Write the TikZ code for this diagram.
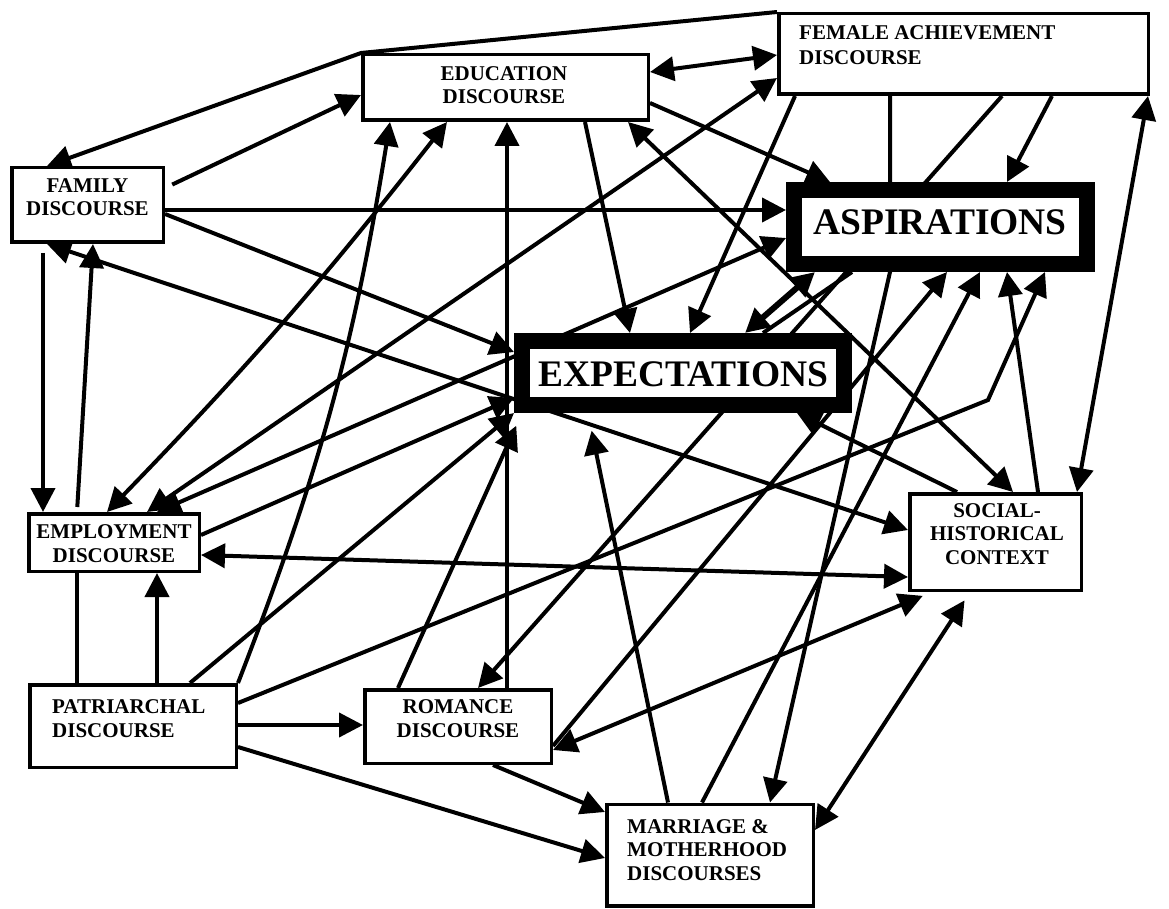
\documentclass[tikz,border=0pt]{standalone}
\usepackage{fontspec}
\setmainfont{Liberation Serif}
\usetikzlibrary{arrows.meta,backgrounds,calc}
\begin{document}
\begin{tikzpicture}[x=1pt,y=-1pt,
  >={Triangle[length=24pt,width=24pt]},
  box/.style={draw,line width=3.5pt,fill=white,inner sep=0pt},
  bigbox/.style={draw,line width=16pt,fill=white,inner sep=0pt,outer sep=8pt},
  txt/.style={inner sep=0pt,font=\bfseries\fontsize{21}{23.5}\selectfont},
  bigtxt/.style={inner sep=0pt,font=\bfseries\fontsize{37.5}{40}\selectfont},
  conn/.style={line width=4pt},
  thickconn/.style={line width=6pt}]
\useasboundingbox (0,0) rectangle (1169,909);

% boxes
\node[box,minimum width=151.5pt,minimum height=74.5pt] (fam) at (87.5,205) {};
\node[box,minimum width=285.5pt,minimum height=65.5pt] (edu) at (505.5,87.5) {};
\node[box,minimum width=369.5pt,minimum height=80.5pt] (fa) at (963.5,54) {};
\node[bigbox,minimum width=293pt,minimum height=74pt] (asp) at (940.5,227) {};
\node[bigbox,minimum width=322pt,minimum height=64pt] (exp) at (683,373) {};
\node[box,minimum width=170.5pt,minimum height=57.5pt] (emp) at (114,542.5) {};
\node[box,minimum width=171.5pt,minimum height=96.5pt] (soc) at (995.5,542) {};
\node[box,minimum width=206.5pt,minimum height=82.5pt] (pat) at (133,726) {};
\node[box,minimum width=186.5pt,minimum height=73.5pt] (rom) at (458,726.5) {};
\node[box,minimum width=206.5pt,minimum height=101.5pt] (mar) at (710,855) {};

% texts
\node[txt,align=center] (famtxt) at (87.5,197) {FAMILY\\DISCOURSE};
\node[txt,align=center] (edutxt) at (504,85) {EDUCATION\\DISCOURSE};
\node[txt,align=left,anchor=west,font=\bfseries\fontsize{21}{25}\selectfont] (fatxt) at (799,45.5) {FEMALE ACHIEVEMENT\\DISCOURSE};
\node[bigtxt] (asptxt) at (940,222.5) {ASPIRATIONS};
\node[bigtxt] (exptxt) at (683.5,374) {EXPECTATIONS};
\node[txt,align=center] (emptxt) at (114,543.5) {EMPLOYMENT\\DISCOURSE};
\node[txt,align=center] (soctxt) at (997,534) {SOCIAL-\\HISTORICAL\\CONTEXT};
\node[txt,align=left,anchor=west] (pattxt) at (52,718.5) {PATRIARCHAL\\DISCOURSE};
\node[txt,align=center] (romtxt) at (458,718.5) {ROMANCE\\DISCOURSE};
\node[txt,align=left,anchor=west] (martxt) at (627,850) {MARRIAGE \&\\MOTHERHOOD\\DISCOURSES};

\coordinate (pbend) at (988,400);

\begin{pgfonlayer}{background}
\fill[white] (0,0) rectangle (1169,909);
\draw[conn,->] (fa.north west) -- (edu.north west) -- (47,0 |- fam.north);
\draw[conn,->,shorten <=8pt] (fam.east |- 0,188) -- (edu.west |- 0,95);
\draw[conn,->] (fam.east |- 0,210) -- (asp.west |- 0,210);
\draw[conn,->] (fam.east |- 0,214) -- (exp.west |- 0,352);
\draw[conn,<->] (47,0 |- fam.south) -- (soc.west |- 0,530);
\draw[conn,->,shorten <=9pt] (43,0 |- fam.south) -- (43,0 |- emp.north);
\draw[conn,->,shorten <=5pt] (77,0 |- emp.north) -- (93,0 |- fam.south);
\draw[conn,->] (585,0 |- edu.south) -- (630,0 |- exp.north);
\draw[conn,->] (edu.east |- 0,103) -- (830,0 |- asp.north);
\draw[conn,<->] (edu.east |- 0,72) -- (fa.west |- 0,55);
\draw[conn,<->] (fa.west |- 0,78) -- (147,0 |- emp.north);
\draw[conn,<->] (447,0 |- edu.south) to[bend left=3] (107,0 |- emp.north);
\draw[conn,->] (890,0 |- fa.south) -- (890,0 |- asp.south) -- (770,0 |- mar.north);
\draw[conn,->] (795,0 |- fa.south) -- (690,0 |- exp.north);
\draw[conn,->] (1002,0 |- fa.south) -- (478,0 |- rom.north);
\draw[conn,->] (1052,0 |- fa.south) -- (1007,0 |- asp.north);
\draw[conn,<->] (1148,0 |- fa.south) -- (1077,0 |- soc.north);
\draw[conn,<->] (628,0 |- edu.south) -- (1013,0 |- soc.north);
\draw[conn,->] (957,0 |- soc.north) -- (797,0 |- exp.south);
\draw[conn,->] (1038,0 |- soc.north) -- (1007,0 |- asp.south);
\draw[conn,<->] (emp.east |- 0,555) -- (soc.west |- 0,577);
\draw[conn,<->,shorten >=10pt] (rom.east |- 0,750) -- (932,0 |- soc.south);
\draw[conn,<->,shorten >=10pt] (mar.east |- 0,830) -- (970,0 |- soc.south);
\draw[conn,->] (702,0 |- mar.north) -- (980,0 |- asp.south);
\draw[conn,->] (rom.east |- 0,746) -- (947,0 |- asp.south);
\draw[thickconn,<->] (745,0 |- exp.north) -- (815,0 |- asp.south);
\draw[conn] (763,0 |- exp.north) -- (852,0 |- asp.south);
\draw[conn,<->] (157,0 |- emp.north) -- (asp.west |- 0,238);
\draw[conn,->] (emp.east |- 0,535) -- (exp.west |- 0,398);
\draw[conn] (77,0 |- pat.north) -- (77,0 |- emp.south);
\draw[conn,->] (157,0 |- pat.north) -- (157,0 |- emp.south);
\draw[conn,->] (190,0 |- pat.north) -- (exp.south west);
\draw[conn,->] (pat.north east) to[bend right=6] (390,0 |- edu.south);
\draw[conn,->] (pat.east |- 0,703) -- (pbend) -- (1045,0 |- asp.south);
\draw[conn,->] (pat.east |- 0,725) -- (rom.west |- 0,725);
\draw[conn,->] (pat.east |- 0,747) -- (mar.west |- 0,858);
\draw[conn,->] (493,0 |- rom.south) -- (mar.west |- 0,812);
\draw[conn,->,shorten >=14pt] (398,0 |- rom.north) -- (522,0 |- exp.south);
\draw[conn,->] (507,0 |- rom.north) -- (507,0 |- edu.south);
\draw[conn,->,shorten >=18pt] (668,0 |- mar.north) -- (588,0 |- exp.south);
\end{pgfonlayer}
\end{tikzpicture}
\end{document}
